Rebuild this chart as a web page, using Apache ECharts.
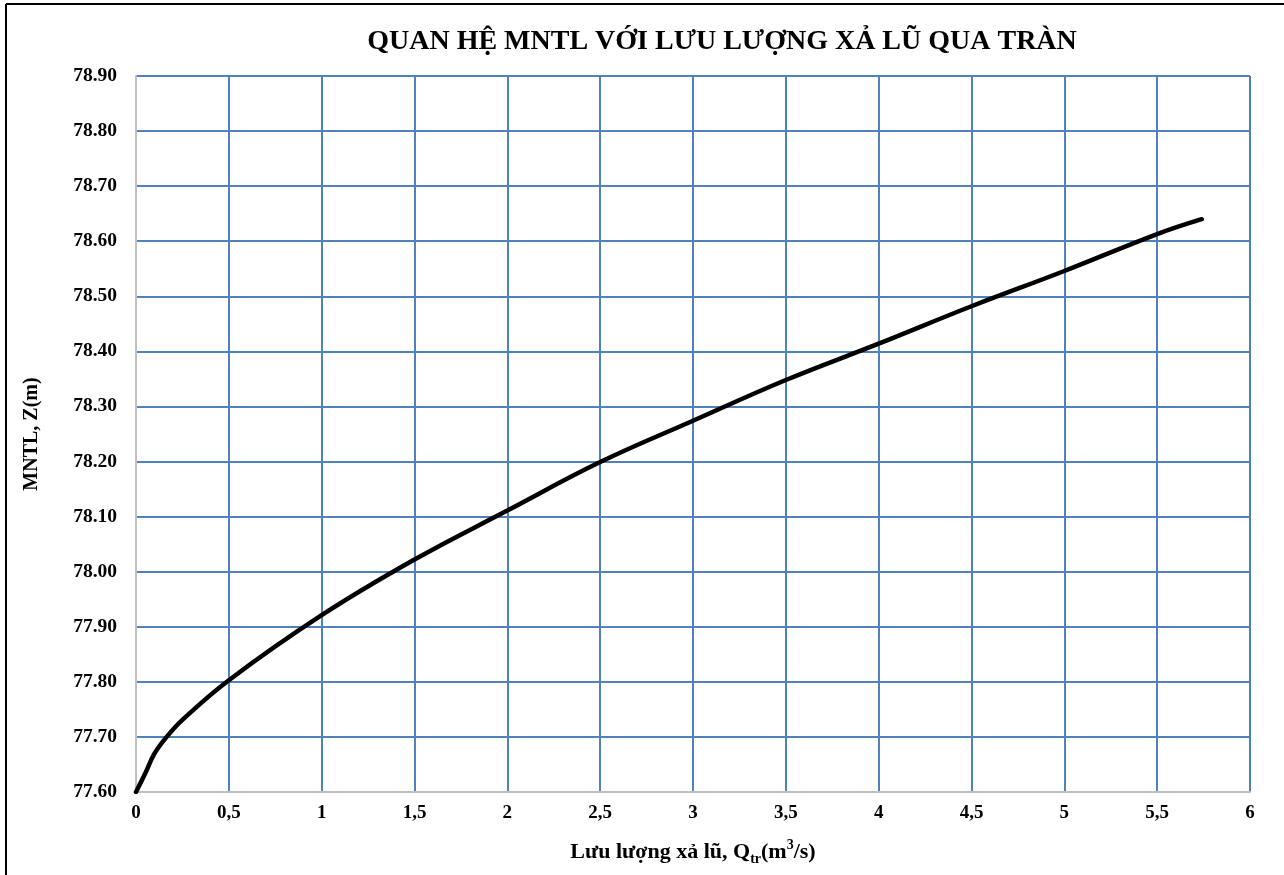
<!DOCTYPE html>
<html>
<head>
<meta charset="utf-8">
<script src="https://cdn.jsdelivr.net/npm/echarts@6/dist/echarts.min.js"></script>
<style>
html,body{margin:0;padding:0;background:#fff;}
#c{width:1284px;height:875px;}
</style>
</head>
<body>
<div id="c"></div>
<script>
// Data
var dischargeQ = [0, 0.05, 0.1, 0.165, 0.25, 0.5, 1.0, 1.5, 2.0, 2.5, 3.0, 3.5, 4.0, 4.5, 5.0, 5.5, 5.74];
var waterLevelZ = [77.60, 77.634, 77.67, 77.70, 77.731, 77.803, 77.921, 78.022, 78.111, 78.199, 78.274, 78.348, 78.414, 78.482, 78.546, 78.613, 78.640];
var titleText = 'QUAN HỆ MNTL VỚI LƯU LƯỢNG XẢ LŨ QUA TRÀN';
var yAxisTitle = 'MNTL, Z(m)';

var points = dischargeQ.map(function (q, i) { return [q, waterLevelZ[i]]; });
var serif = '"Liberation Serif", "DejaVu Serif", serif';

var chart = echarts.init(document.getElementById('c'));
chart.setOption({
  animation: false,
  backgroundColor: '#ffffff',
  title: {
    text: titleText,
    left: 717,
    textAlign: 'center',
    top: 23,
    textStyle: { fontFamily: serif, fontWeight: 'bold', fontSize: 28, color: '#000' }
  },
  graphic: [
    { type: 'line', shape: { x1: 6, y1: 4, x2: 6, y2: 875 }, style: { stroke: '#000', lineWidth: 2 } },
    { type: 'line', shape: { x1: 6, y1: 4, x2: 1284, y2: 4 }, style: { stroke: '#000', lineWidth: 2 } }
  ],
  grid: { left: 136, right: 34, top: 76, bottom: 83, containLabel: false },
  xAxis: {
    type: 'value',
    min: 0, max: 6, interval: 0.5,
    axisLine: { show: true, lineStyle: { color: '#bfbfbf', width: 2 } },
    axisTick: { show: false },
    splitLine: { show: true, lineStyle: { color: '#4f81bd', width: 2 } },
    axisLabel: {
      margin: 12,
      fontFamily: serif, fontWeight: 'bold', fontSize: 19, color: '#000',
      formatter: function (v) { return String(v).replace('.', ','); }
    },
    name: '{a|Lưu lượng xả lũ, Q}{sub|tr}{a|(m}{sup|3}{a|/s)}',
    nameLocation: 'middle',
    nameGap: 46,
    nameTextStyle: {
      rich: {
        a: { fontFamily: serif, fontWeight: 'bold', fontSize: 22, color: '#000', lineHeight: 28, verticalAlign: 'middle' },
        sub: { fontFamily: serif, fontWeight: 'bold', fontSize: 14, color: '#000', lineHeight: 28, verticalAlign: 'bottom', padding: [8, 0, 0, 0] },
        sup: { fontFamily: serif, fontWeight: 'bold', fontSize: 14, color: '#000', lineHeight: 28, verticalAlign: 'top', padding: [0, 0, 8, 0] }
      }
    }
  },
  yAxis: {
    type: 'value',
    min: 77.6, max: 78.9, interval: 0.1,
    axisLine: { show: true, lineStyle: { color: '#bfbfbf', width: 2 } },
    axisTick: { show: false },
    splitLine: { show: true, lineStyle: { color: '#4f81bd', width: 2 } },
    axisLabel: {
      margin: 19,
      fontFamily: serif, fontWeight: 'bold', fontSize: 19.5, color: '#000',
      formatter: function (v) { return v.toFixed(2); }
    },
    name: yAxisTitle,
    nameLocation: 'middle',
    nameGap: 94,
    nameRotate: 90,
    nameTextStyle: { fontFamily: serif, fontWeight: 'bold', fontSize: 20, color: '#000' }
  },
  series: [{
    type: 'line',
    data: points,
    smooth: 0.4,
    showSymbol: false,
    lineStyle: { color: '#000', width: 4.5, cap: 'round' },
    z: 5
  }]
});
</script>
</body>
</html>
